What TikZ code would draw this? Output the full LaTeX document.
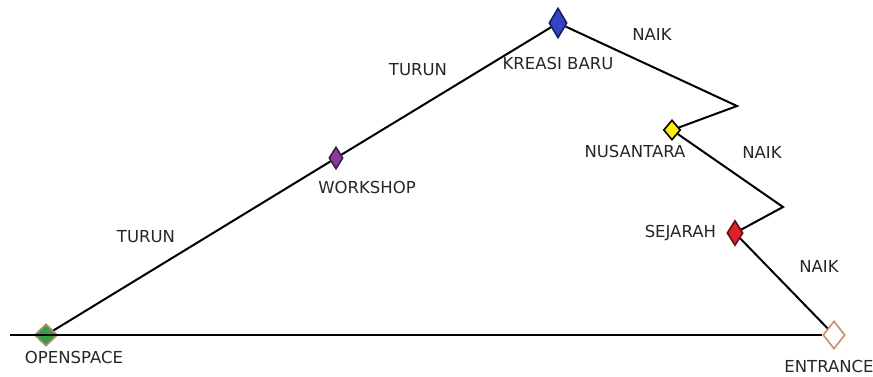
\documentclass[tikz,border=0pt]{standalone}
\usepackage{fontspec}
\setmainfont{DejaVu Sans}
\usetikzlibrary{shapes.geometric,positioning}
\definecolor{rutegray}{HTML}{262626}
\definecolor{opengreen}{HTML}{3E9B45}
\definecolor{opentan}{HTML}{A8906C}
\definecolor{entrancetan}{HTML}{C8906C}
\definecolor{kreasiblue}{HTML}{3344C8}
\definecolor{workpurple}{HTML}{8A3C9C}
\definecolor{nusayellow}{HTML}{FFEE10}
\definecolor{sejarahred}{HTML}{E0202C}
\tikzset{
  halte/.style={diamond,inner sep=0pt,line width=1.6pt,draw=#1!45!black,fill=#1},
  halte/.default={opengreen},
  rute/.style={line width=2pt,draw=black},
  lbl/.style={font=\fontsize{16.5}{18}\selectfont,text=rutegray,inner sep=0pt},
}

\begin{document}
\begin{tikzpicture}[x=1pt,y=-1pt]
  \useasboundingbox (0,0) rectangle (873,376);
  % stations
  \node[halte=opengreen,draw=opentan,minimum width=23pt,minimum height=22pt] (open) at (46,335) {};
  \node[halte,draw=entrancetan,fill=white,minimum width=22pt,minimum height=28pt] (entrance) at (834,335) {};
  \node[halte=workpurple,minimum width=14pt,minimum height=22pt] (workshop) at (336,158) {};
  \node[halte=kreasiblue,minimum width=18pt,minimum height=30pt] (kreasi) at (558,23) {};
  \node[halte=nusayellow,draw=black,minimum width=17pt,minimum height=20pt] (nusantara) at (672,130) {};
  \node[halte=sejarahred,minimum width=16pt,minimum height=25pt] (sejarah) at (735,233) {};
  \coordinate (lend) at (10,335);
  \coordinate (tikung1) at (737,106);
  \coordinate (tikung2) at (783,207);
  % route
  \draw[rute] (lend) -- (open.center) -- (entrance);
  \draw[rute] (open) -- (workshop) -- (kreasi);
  \draw[rute] (kreasi) -- (tikung1) -- (nusantara);
  \draw[rute] (nusantara) -- (tikung2) -- (sejarah);
  \draw[rute] (sejarah) -- (entrance);
  % names
  \node[lbl] (openlbl) at (74,357) {OPENSPACE};
  \node[lbl] (entrancelbl) at (829,366) {ENTRANCE};
  \node[lbl] (workshoplbl) at (367,187) {WORKSHOP};
  \node[lbl,below=18pt of kreasi] (kreasilbl) {KREASI BARU};
  \node[lbl] (nusantaralbl) at (635,151) {NUSANTARA};
  \node[lbl,left=10pt of sejarah] (sejarahlbl) {SEJARAH};
  % directions
  \node[lbl] (turun1) at (146,237) {TURUN};
  \node[lbl] (turun2) at (418,70) {TURUN};
  \node[lbl] (naik1) at (652,34) {NAIK};
  \node[lbl] (naik2) at (762,152) {NAIK};
  \node[lbl] (naik3) at (819,266) {NAIK};
\end{tikzpicture}
\end{document}
